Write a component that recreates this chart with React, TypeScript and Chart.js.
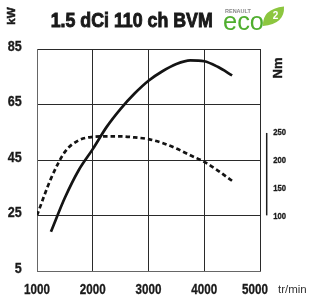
import { useEffect, useRef } from 'react';
import { Chart, registerables } from 'chart.js';

Chart.register(...registerables);

// ---- data ----
const titleText = '1.5 dCi 110 ch BVM';
const xTickValues = [1000, 2000, 3000, 4000, 5000];
const kwTickValues = [5, 25, 45, 65, 85];
const nmTickValues = [100, 150, 200, 250];

const powerRpm = [1250, 1500, 1750, 2000, 2250, 2500, 2750, 3000, 3250, 3500, 3750, 4000, 4250, 4500];
const powerKw = [19.3, 31.5, 41.5, 49, 57, 63.5, 69, 73.6, 77, 79.6, 80.9, 80.6, 78.5, 75.5];

const torqueRpm = [1000, 1250, 1500, 1750, 2000, 2250, 2500, 2750, 3000, 3250, 3500, 3750, 4000, 4250, 4500];
const torqueNm = [101, 167, 215, 236, 242, 243, 243, 241, 238, 231, 221, 209, 197, 181, 163];

const SANS = "'Liberation Sans', Arial, sans-serif";
const INK = '#1a1a1a';

function narrowText(
  ctx: CanvasRenderingContext2D,
  text: string,
  x: number,
  y: number,
  sx: number,
  align: 'left' | 'right' | 'center',
  bold = 0,
) {
  ctx.save();
  ctx.translate(x, y);
  ctx.scale(sx, 1);
  ctx.textAlign = align;
  ctx.textBaseline = 'alphabetic';
  ctx.fillText(text, 0, 0);
  if (bold > 0) {
    ctx.lineWidth = bold;
    ctx.strokeStyle = ctx.fillStyle as string;
    ctx.strokeText(text, 0, 0);
  }
  ctx.restore();
}

const decor = {
  id: 'decor',
  afterDraw(chart: any) {
    const ctx: CanvasRenderingContext2D = chart.ctx;
    const area = chart.chartArea;
    const xs = chart.scales.x;
    const ys = chart.scales.y;
    const y2 = chart.scales.y2;
    ctx.save();

    // tick labels (condensed bold, drawn at the scales' pixels)
    ctx.fillStyle = INK;
    ctx.font = `bold 14px ${SANS}`;
    xTickValues.forEach((v, i) => {
      const px = xs.getPixelForValue(v) + (i === xTickValues.length - 1 ? -5 : 0);
      narrowText(ctx, String(v), px, 294.3, 0.83, 'center', 0.3);
    });
    kwTickValues.forEach((v) => {
      narrowText(ctx, String(v), 21.7, ys.getPixelForValue(v) + 1.5, 0.9, 'right', 0.3);
    });
    ctx.font = `bold 8.5px ${SANS}`;
    nmTickValues.forEach((v) => {
      narrowText(ctx, String(v), area.right + 13.3, y2.getPixelForValue(v) + 3, 0.9, 'left', 0.3);
    });

    // Nm axis bar
    ctx.strokeStyle = '#1e1e1e';
    ctx.lineWidth = 1.5;
    ctx.beginPath();
    const ax = area.right + 6.7;
    ctx.moveTo(ax, y2.getPixelForValue(nmTickValues[nmTickValues.length - 1]) + 0.5);
    ctx.lineTo(ax, y2.getPixelForValue(nmTickValues[0]) - 0.5);
    ctx.stroke();

    // title
    ctx.fillStyle = INK;
    ctx.font = `bold 19.5px ${SANS}`;
    ctx.textAlign = 'left';
    const tw = ctx.measureText(titleText).width;
    narrowText(ctx, titleText, 50.7, 26.7, 162 / tw, 'left', 0.9);

    // kW (rotated)
    ctx.save();
    ctx.translate(15.2, 16);
    ctx.rotate(-Math.PI / 2);
    ctx.font = `bold 11.5px ${SANS}`;
    narrowText(ctx, 'kW', 0, 0, 1, 'center', 0.5);
    ctx.restore();

    // Nm (rotated)
    ctx.save();
    ctx.translate(281.5, 68);
    ctx.rotate(-Math.PI / 2);
    ctx.font = `bold 13px ${SANS}`;
    narrowText(ctx, 'Nm', 0, 0, 1, 'center', 0.4);
    ctx.restore();

    // tr/min
    ctx.fillStyle = '#333';
    ctx.font = `11.5px ${SANS}`;
    ctx.textAlign = 'left';
    ctx.textBaseline = 'middle';
    ctx.fillText('tr/min', 278, 289.5);

    // eco2 logo
    ctx.fillStyle = '#8a8a8a';
    ctx.font = `bold 5.5px ${SANS}`;
    ctx.textBaseline = 'alphabetic';
    ctx.fillText('RENAULT', 225, 12.5);

    ctx.fillStyle = '#8cc63f';
    ctx.beginPath();
    ctx.moveTo(263, 26);
    ctx.quadraticCurveTo(262, 9, 284, 6.5);
    ctx.quadraticCurveTo(285, 24, 263, 26);
    ctx.closePath();
    ctx.fill();
    ctx.fillStyle = '#ffffff';
    ctx.font = `bold 10px ${SANS}`;
    ctx.textAlign = 'center';
    ctx.fillText('2', 275.5, 19);

    ctx.fillStyle = '#4fae2e';
    ctx.font = `26px ${SANS}`;
    ctx.textAlign = 'left';
    const ew = ctx.measureText('eco').width;
    narrowText(ctx, 'eco', 223, 29.5, 41 / ew, 'left', 0);

    ctx.restore();
  },
};

export default function App() {
  const ref = useRef<HTMLCanvasElement | null>(null);

  useEffect(() => {
    document.body.style.margin = '0';
    const canvas = ref.current;
    if (!canvas) return;
    const chart = new Chart(canvas, {
      type: 'line',
      data: {
        datasets: [
          {
            label: 'Puissance (kW)',
            data: powerRpm.map((x, i) => ({ x, y: powerKw[i] })),
            yAxisID: 'y',
            borderColor: '#141414',
            borderWidth: 2.7,
            pointRadius: 0,
            cubicInterpolationMode: 'monotone',
            fill: false,
          },
          {
            label: 'Couple (Nm)',
            data: torqueRpm.map((x, i) => ({ x, y: torqueNm[i] })),
            yAxisID: 'y2',
            borderColor: '#141414',
            borderWidth: 2.7,
            borderDash: [4.5, 3],
            pointRadius: 0,
            cubicInterpolationMode: 'monotone',
            fill: false,
          },
        ],
      },
      options: {
        responsive: false,
        animation: false,
        layout: { padding: { top: 49, left: 0, right: 0, bottom: 0 } },
        plugins: { legend: { display: false }, tooltip: { enabled: false }, title: { display: false } },
        scales: {
          x: {
            type: 'linear',
            min: xTickValues[0],
            max: xTickValues[xTickValues.length - 1],
            afterBuildTicks: (s: any) => {
              s.ticks = xTickValues.map((value) => ({ value }));
            },
            afterFit: (s: any) => {
              s.height = 26.5;
            },
            grid: { color: '#2a2a2a', lineWidth: 1, drawTicks: false },
            border: { color: '#666', width: 1 },
            ticks: { display: false, autoSkip: false },
          },
          y: {
            type: 'linear',
            position: 'left',
            min: kwTickValues[0],
            max: kwTickValues[kwTickValues.length - 1],
            afterBuildTicks: (s: any) => {
              s.ticks = kwTickValues.map((value) => ({ value }));
            },
            afterFit: (s: any) => {
              s.width = 37;
            },
            grid: { color: '#2a2a2a', lineWidth: 1, drawTicks: false },
            border: { color: '#666', width: 1 },
            ticks: { display: false, autoSkip: false },
          },
          y2: {
            type: 'linear',
            position: 'right',
            min: 0,
            max: 400,
            afterBuildTicks: (s: any) => {
              s.ticks = nmTickValues.map((value) => ({ value }));
            },
            afterFit: (s: any) => {
              s.width = 53;
            },
            grid: { display: false, drawTicks: false },
            border: { display: false },
            ticks: { display: false, autoSkip: false },
          },
        },
      },
      plugins: [decor],
    } as any);
    return () => chart.destroy();
  }, []);

  return (
    <div style={{ width: 313, height: 298, background: '#fff' }}>
      <canvas ref={ref} width={313} height={298} style={{ display: 'block' }} />
    </div>
  );
}
